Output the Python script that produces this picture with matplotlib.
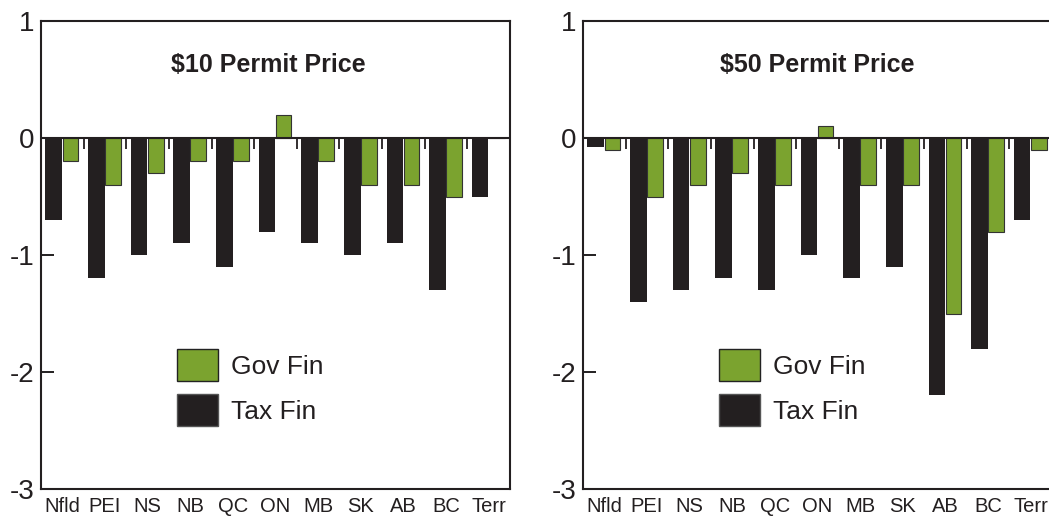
import numpy as np
import matplotlib
matplotlib.use("Agg")
import matplotlib.pyplot as plt
from matplotlib.patches import Patch

plt.rcParams.update({"font.family": ["Liberation Sans", "DejaVu Sans"]})

# provinces and values
provinces = ["Nfld", "PEI", "NS", "NB", "QC", "ON", "MB", "SK", "AB", "BC", "Terr"]

gov_10 = [-0.2, -0.4, -0.3, -0.2, -0.2, 0.2, -0.2, -0.4, -0.4, -0.5, 0.0]
tax_10 = [-0.7, -1.2, -1.0, -0.9, -1.1, -0.8, -0.9, -1.0, -0.9, -1.3, -0.5]

gov_50 = [-0.1, -0.5, -0.4, -0.3, -0.4, 0.1, -0.4, -0.4, -1.5, -0.8, -0.1]
tax_50 = [-0.08, -1.4, -1.3, -1.2, -1.3, -1.0, -1.2, -1.1, -2.2, -1.8, -0.7]

titles = ["$10 Permit Price", "$50 Permit Price"]
y_ticks = [1, 0, -1, -2, -3]

GREEN = "#7ba32f"
DARK = "#231f20"

W, H = 1049, 519
fig = plt.figure(figsize=(W / 100, H / 100), dpi=100)

# axes boxes in pixels: left, top, right, bottom
boxes = [(41, 21, 510, 489), (583, 21, 1052, 489)]
panels = [(gov_10, tax_10), (gov_50, tax_50)]
title_x = [0.485, 0.5]


def draw_panel(ax, gov, tax, title, tx):
    x = np.arange(len(provinces))
    ax.bar(x + 0.30, tax, width=0.39, color=DARK, edgecolor="none", zorder=2)
    ax.bar(x + 0.69, gov, width=0.37, color=GREEN, edgecolor="#333333",
           linewidth=0.8, zorder=2)
    ax.axhline(0, color=DARK, lw=1.5, zorder=3)
    # little separators hanging from the zero line between provinces
    ax.vlines(np.arange(1, len(provinces) + 1), -0.095, 0, color=DARK, lw=1.3, zorder=3)

    ax.set_xlim(0, len(provinces))
    ax.set_ylim(-3, 1)
    ax.set_yticks(y_ticks)
    ax.set_yticklabels([str(v) for v in y_ticks])
    ax.tick_params(axis="y", direction="in", length=9, width=1.4, pad=5,
                   labelsize=20, colors=DARK)
    ax.set_xticks(x + 0.5)
    ax.set_xticklabels(provinces)
    ax.tick_params(axis="x", length=0, pad=6, labelsize=14.5, colors=DARK)
    for s in ax.spines.values():
        s.set_linewidth(1.5)
        s.set_color(DARK)

    ax.text(tx, 0.891, title, transform=ax.transAxes, ha="center", va="baseline",
            fontsize=18, fontweight="bold", color=DARK)

    handles = [Patch(facecolor=GREEN, edgecolor="#222222", linewidth=1.0),
               Patch(facecolor=DARK, edgecolor="#555555", linewidth=1.0)]
    ax.legend(handles, ["Gov Fin", "Tax Fin"], loc="upper left",
              bbox_to_anchor=(0.29, 0.299), frameon=False, fontsize=19,
              borderpad=0, borderaxespad=0, handlelength=1.55, handleheight=1.46,
              labelspacing=0.52, handletextpad=0.5, labelcolor=DARK)


for (l, t, r, b), (gov, tax), title, tx in zip(boxes, panels, titles, title_x):
    ax = fig.add_axes([l / W, (H - b) / H, (r - l) / W, (b - t) / H])
    draw_panel(ax, gov, tax, title, tx)

fig.savefig("out.png", dpi=100)
